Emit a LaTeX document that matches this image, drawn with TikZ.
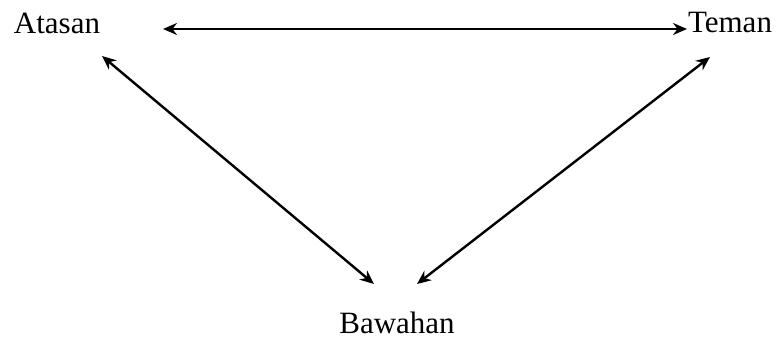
\documentclass[tikz,border=0pt]{standalone}
\usepackage{fontspec}
\setmainfont{Liberation Serif}
\usetikzlibrary{arrows.meta}
\begin{document}
\begin{tikzpicture}[x=1pt,y=1pt,
  lbl/.style={inner sep=0pt, anchor=base, font=\fontsize{31}{36}\selectfont},
  link/.style={line width=2.4pt, {Stealth[length=14pt,width=12pt]}-{Stealth[length=14pt,width=12pt]}}]
\useasboundingbox (0,0) rectangle (777,340);
\node[lbl] (atasan) at (57,306) {Atasan};
\node[lbl] (teman) at (730,307) {Teman};
\node[lbl] (bawahan) at (397,6) {Bawahan};
\coordinate (a1) at (163,311);
\coordinate (t1) at (687,311);
\coordinate (a2) at (102,284);
\coordinate (b1) at (374,56);
\coordinate (t2) at (710,283);
\coordinate (b2) at (417,56);
\draw[link] (a1) -- (t1);
\draw[link] (a2) -- (b1);
\draw[link] (t2) -- (b2);
\end{tikzpicture}
\end{document}
